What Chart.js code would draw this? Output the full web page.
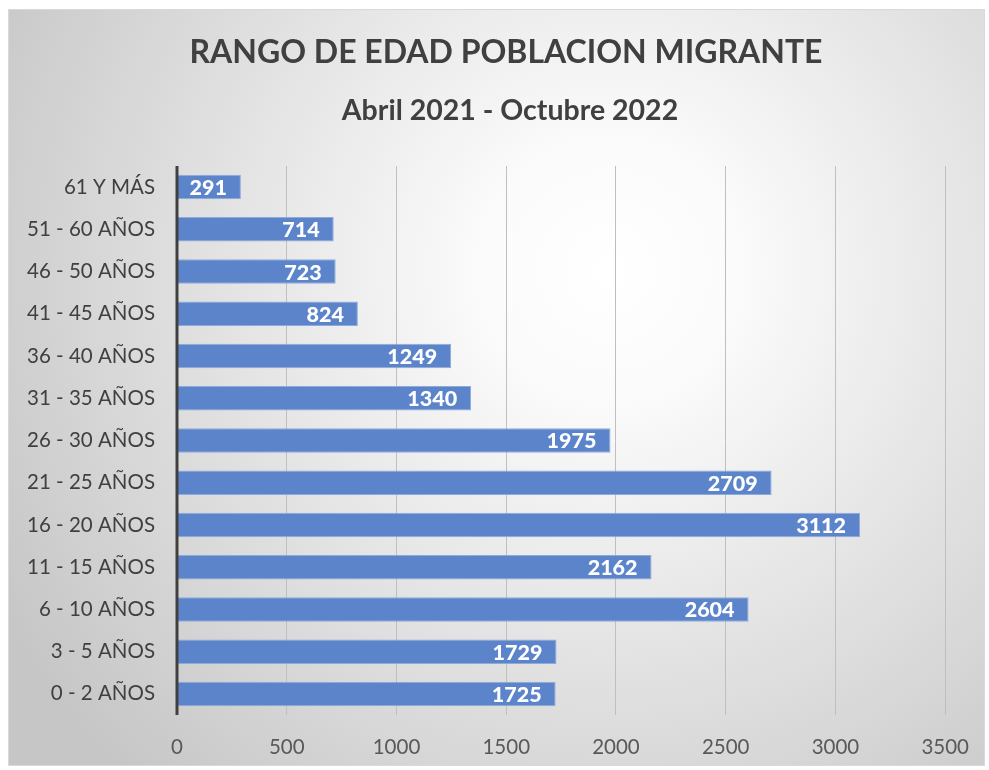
<!DOCTYPE html>
<html>
<head>
<meta charset="utf-8">
<script src="https://cdn.jsdelivr.net/npm/chart.js@4"></script>
<style>
  html, body { margin: 0; padding: 0; background: #ffffff; }
  #wrap { width: 989px; height: 770px; position: relative; }
</style>
</head>
<body>
<div id="wrap"><canvas id="c" width="989" height="770"></canvas></div>
<script>
const categories = ["61 Y MÁS", "51 - 60 AÑOS", "46 - 50 AÑOS", "41 - 45 AÑOS", "36 - 40 AÑOS", "31 - 35 AÑOS", "26 - 30 AÑOS", "21 - 25 AÑOS", "16 - 20 AÑOS", "11 - 15 AÑOS", "6 - 10 AÑOS", "3 - 5 AÑOS", "0 - 2 AÑOS"];
const values = [291, 714, 723, 824, 1249, 1340, 1975, 2709, 3112, 2162, 2604, 1729, 1725];
const xTicks = [0, 500, 1000, 1500, 2000, 2500, 3000, 3500];
const titleText = "RANGO DE EDAD POBLACION MIGRANTE";
const subtitleText = "Abril 2021 - Octubre 2022";

const FONT = "Lato, 'Open Sans', sans-serif";

const bgPlugin = {
  id: 'bg',
  beforeDraw(chart) {
    const ctx = chart.ctx;
    const W = chart.width, H = chart.height;
    ctx.save();
    ctx.fillStyle = '#ffffff';
    ctx.fillRect(0, 0, W, H);
    const g = ctx.createRadialGradient(610, 270, 0, 610, 270, 700);
    g.addColorStop(0, '#ffffff');
    g.addColorStop(0.18, '#fbfbfb');
    g.addColorStop(1, '#c6c6c6');
    ctx.fillStyle = g;
    ctx.fillRect(8, 9, W - 12, H - 13);
    ctx.strokeStyle = '#d9d9d9';
    ctx.lineWidth = 1;
    ctx.strokeRect(8.5, 9.5, W - 13, H - 14);
    // titles
    ctx.fillStyle = '#404040';
    ctx.textAlign = 'center';
    ctx.textBaseline = 'middle';
    ctx.font = "bold 32px " + FONT;
    ctx.fillText(titleText, 506, 53);
    ctx.font = "bold 28.5px " + FONT;
    ctx.fillText(subtitleText, 510, 111);
    ctx.restore();
  }
};

const axisLinePlugin = {
  id: 'axisLine',
  afterDatasetsDraw(chart) {
    const ctx = chart.ctx;
    const x = chart.scales.x.getPixelForValue(0);
    const a = chart.chartArea;
    ctx.save();
    ctx.strokeStyle = '#404040';
    ctx.lineWidth = 3;
    ctx.beginPath();
    ctx.moveTo(x, a.top);
    ctx.lineTo(x, a.bottom);
    ctx.stroke();
    ctx.restore();
  },
  afterDraw(chart) {
    const ctx = chart.ctx;
    const meta = chart.getDatasetMeta(0);
    ctx.save();
    ctx.fillStyle = '#ffffff';
    ctx.font = "900 21.5px " + FONT;
    ctx.textAlign = 'right';
    ctx.textBaseline = 'middle';
    meta.data.forEach((bar, i) => {
      ctx.fillText(String(values[i]), bar.x - 14, bar.y + 1);
    });
    ctx.restore();
  }
};

new Chart(document.getElementById('c'), {
  type: 'bar',
  data: {
    labels: categories,
    datasets: [{
      data: values,
      backgroundColor: '#5b84cb',
      borderColor: '#8eaadd',
      borderWidth: 1,
      barPercentage: 0.58,
      categoryPercentage: 1.0
    }]
  },
  options: {
    indexAxis: 'y',
    responsive: false,
    animation: false,
    layout: { padding: { left: 20, right: 39, top: 166, bottom: 0 } },
    plugins: {
      legend: { display: false },
      tooltip: { enabled: false },
      title: { display: false }
    },
    scales: {
      x: {
        min: 0,
        max: 3500,
        afterBuildTicks(scale) { scale.ticks = xTicks.map(v => ({ value: v })); },
        afterFit(scale) { scale.height = 55; },
        grid: { color: '#bfbfbf', lineWidth: 1, drawTicks: false },
        border: { display: false },
        ticks: {
          color: '#595959',
          font: { family: FONT, size: 20.5 },
          padding: 20,
          callback: (v) => String(v)
        }
      },
      y: {
        grid: { display: false, drawTicks: false },
        border: { display: false },
        afterFit(scale) { scale.width = 157; },
        ticks: { color: '#404040', font: { family: FONT, size: 20.5 }, padding: 22 }
      }
    }
  },
  plugins: [bgPlugin, axisLinePlugin]
});
</script>
</body>
</html>
